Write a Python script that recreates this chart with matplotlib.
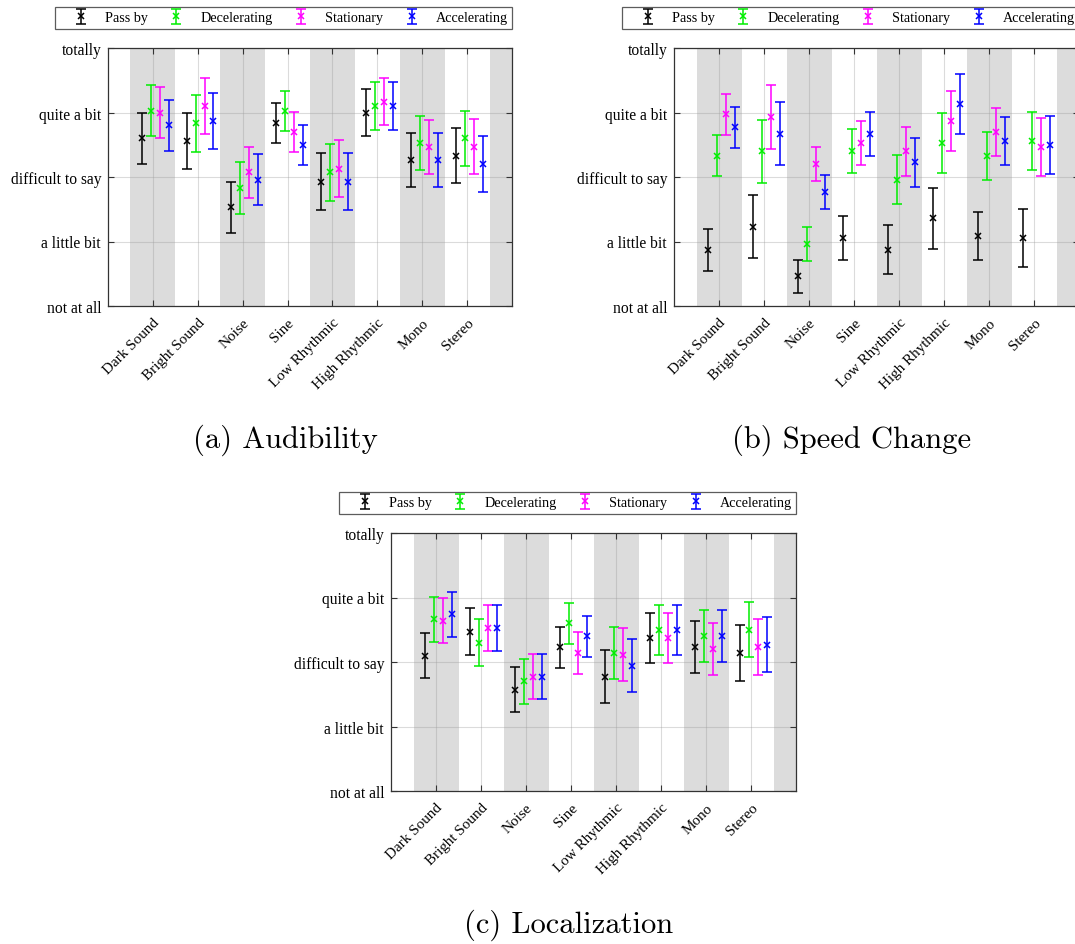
import matplotlib
matplotlib.use("Agg")
import matplotlib.pyplot as plt
import numpy as np

categories = ["Dark Sound", "Bright Sound", "Noise", "Sine", "Low Rhythmic",
              "High Rhythmic", "Mono", "Stereo"]
ylevels = ["not at all", "a little bit", "difficult to say", "quite a bit", "totally"]
series = ["Pass by", "Decelerating", "Stationary", "Accelerating"]
colors = ["#000000", "#00ee00", "#ff00ff", "#0000ff"]

# (a) Audibility
aud_pass = [2.60, 2.56, 1.53, 2.83, 1.93, 3.00, 2.26, 2.33]
aud_dec = [3.03, 2.83, 1.83, 3.03, 2.07, 3.10, 2.53, 2.60]
aud_sta = [3.00, 3.10, 2.07, 2.70, 2.13, 3.17, 2.47, 2.47]
aud_acc = [2.80, 2.87, 1.96, 2.50, 1.93, 3.10, 2.26, 2.20]
aud_err = [0.40, 0.44, 0.40, 0.31, 0.44, 0.37, 0.42, 0.43]

# (b) Speed Change
spd_pass = [0.87, 1.23, 0.46, 1.06, 0.87, 1.36, 1.09, 1.06]
spd_dec = [2.33, 2.40, 0.96, 2.40, 1.96, 2.53, 2.33, 2.56]
spd_sta = [2.97, 2.93, 2.20, 2.53, 2.40, 2.87, 2.70, 2.47]
spd_acc = [2.77, 2.67, 1.77, 2.67, 2.23, 3.13, 2.56, 2.50]
spd_err = [0.32, 0.49, 0.26, 0.34, 0.38, 0.47, 0.37, 0.45]

# (c) Localization
loc_pass = [2.10, 2.47, 1.57, 2.23, 1.77, 2.37, 2.23, 2.14]
loc_dec = [2.66, 2.30, 1.70, 2.60, 2.14, 2.50, 2.40, 2.50]
loc_sta = [2.64, 2.53, 1.77, 2.14, 2.11, 2.37, 2.20, 2.23]
loc_acc = [2.74, 2.53, 1.77, 2.40, 1.94, 2.50, 2.40, 2.27]
loc_err = [0.35, 0.36, 0.35, 0.32, 0.41, 0.39, 0.40, 0.43]

panels = [
    ("(a) Audibility", [aud_pass, aud_dec, aud_sta, aud_acc], aud_err),
    ("(b) Speed Change", [spd_pass, spd_dec, spd_sta, spd_acc], spd_err),
    ("(c) Localization", [loc_pass, loc_dec, loc_sta, loc_acc], loc_err),
]

plt.rcParams["font.family"] = ["Liberation Serif", "DejaVu Serif"]

W, H = 1075, 945
fig = plt.figure(figsize=(W / 100, H / 100), dpi=100)

# axes rectangles in pixels: left, top, width, height
rects = [(108, 49, 404, 258), (674, 49, 405, 258), (391, 534, 405, 258)]
caption_y = [440, 925]
offsets = [-0.25, -0.05, 0.15, 0.35]

for k, ((title, means, err), (lx, ty, w, h)) in enumerate(zip(panels, rects)):
    ax = fig.add_axes([lx / W, 1 - (ty + h) / H, w / W, h / H])
    x = np.arange(1, len(categories) + 1)
    for i in range(0, len(categories) + 1, 2):
        ax.axvspan(i + 0.5, i + 1.5, color="#dcdcdc", lw=0, zorder=0)
    handles = []
    for j, (name, col) in enumerate(zip(series, colors)):
        eb = ax.errorbar(x + offsets[j], means[j], yerr=err, fmt="x", color=col,
                         ecolor=col, elinewidth=1.1, capsize=3.5, capthick=1.1,
                         markersize=4.5, mew=1.1, label=name, zorder=3)
        handles.append(eb)
    ax.set_xlim(0, 9)
    ax.set_ylim(0, 4)
    ax.set_xticks(x)
    ax.set_xticklabels(categories, rotation=45, ha="right", va="top",
                       rotation_mode="anchor", fontsize=10.9)
    ax.set_yticks(range(5))
    ax.set_yticklabels(ylevels, fontsize=11.2)
    ax.grid(True, color="#999999", alpha=0.35, lw=0.8, zorder=1)
    ax.set_axisbelow(True)
    ax.tick_params(direction="in", top=True, right=True, length=4, width=0.8,
                   color="#333333")
    ax.tick_params(axis="y", pad=5)
    ax.tick_params(axis="x", pad=7)
    for s in ax.spines.values():
        s.set_color("#333333")
        s.set_linewidth(0.9)
    leg = ax.legend(handles=handles, loc="lower right", bbox_to_anchor=(1.0, 1.075),
                    ncol=4, fontsize=10.2, frameon=True, fancybox=False,
                    edgecolor="#333333", borderpad=0.3, handlelength=3.1,
                    handletextpad=0.15, columnspacing=0.45, borderaxespad=0)
    leg.get_frame().set_linewidth(0.9)
    cx = (lx + w / 2 - 25) / W
    cy = 1 - (caption_y[0] if k < 2 else caption_y[1]) / H
    fig.text(cx, cy, title, ha="center", va="center", fontsize=22, family="cmr10")

fig.savefig("out.png", dpi=100)
